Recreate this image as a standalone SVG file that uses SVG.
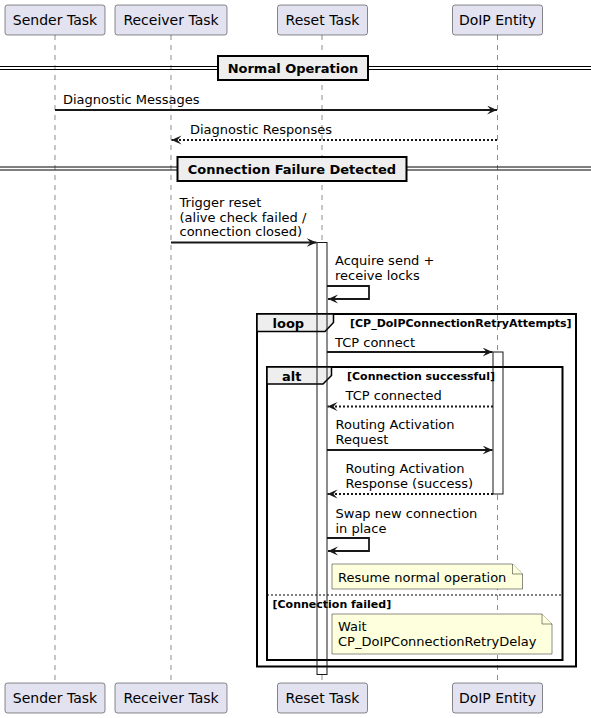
<svg xmlns="http://www.w3.org/2000/svg" width="591" height="718" viewBox="0 0 591 718">
<defs>
<marker id="ah" markerUnits="userSpaceOnUse" markerWidth="12" markerHeight="10" refX="10" refY="4.5" orient="auto">
<path d="M0,0 L10,4.5 L0,9 L4,4.5 Z" fill="#181818"/>
</marker>
<style>
.t{font-family:"DejaVu Sans","Noto Sans",sans-serif;font-size:13px;fill:#000}
.p{font-family:"DejaVu Sans","Noto Sans",sans-serif;font-size:14px;fill:#000;text-anchor:middle}
.b{font-family:"DejaVu Sans","Noto Sans",sans-serif;font-size:13px;font-weight:bold;fill:#000}
.bs{font-family:"DejaVu Sans","Noto Sans",sans-serif;font-size:11px;font-weight:bold;fill:#000}
.part{fill:#E2E2F0;stroke:#181818;stroke-width:0.5}
.life{stroke:#181818;stroke-width:0.5;stroke-dasharray:5,5}
.msg{stroke:#181818;stroke-width:1.8;fill:none;marker-end:url(#ah)}
.dot{stroke-dasharray:2,2}
.act{fill:#FFFFFF;stroke:none}
.acto{fill:none;stroke:#181818;stroke-width:1}
.frame{fill:none;stroke:#000;stroke-width:2}
.tab{fill:#EEEEEE;stroke:#000;stroke-width:1.5}
.note{fill:#FEFFDD;stroke:#181818;stroke-width:0.5}
.divl{stroke:#000;stroke-width:1}
.divb{fill:#EEEEEE;stroke:#000;stroke-width:2}
</style>
</defs>

<g id="lifelines">
<line class="life" x1="55" y1="35" x2="55" y2="683"/>
<line class="life" x1="171" y1="35" x2="171" y2="683"/>
<line class="life" x1="322" y1="35" x2="322" y2="683"/>
<line class="life" x1="497.5" y1="35" x2="497.5" y2="683"/>
</g>

<g id="participant-sender">
<rect class="part" x="5" y="5" width="100" height="30" rx="2.5"/>
<text class="p" x="55" y="25">Sender Task</text>
<rect class="part" x="5" y="683" width="100" height="30" rx="2.5"/>
<text class="p" x="55" y="703">Sender Task</text>
</g>
<g id="participant-receiver">
<rect class="part" x="115" y="5" width="112" height="30" rx="2.5"/>
<text class="p" x="171" y="25">Receiver Task</text>
<rect class="part" x="115" y="683" width="112" height="30" rx="2.5"/>
<text class="p" x="171" y="703">Receiver Task</text>
</g>
<g id="participant-reset">
<rect class="part" x="277.5" y="5" width="90" height="30" rx="2.5"/>
<text class="p" x="322.5" y="25">Reset Task</text>
<rect class="part" x="277.5" y="683" width="90" height="30" rx="2.5"/>
<text class="p" x="322.5" y="703">Reset Task</text>
</g>
<g id="participant-doip">
<rect class="part" x="452.5" y="5" width="90" height="30" rx="2.5"/>
<text class="p" x="497.5" y="25">DoIP Entity</text>
<rect class="part" x="452.5" y="683" width="90" height="30" rx="2.5"/>
<text class="p" x="497.5" y="703">DoIP Entity</text>
</g>

<g id="activation-fills">
<rect class="act" x="317" y="242.5" width="10" height="432"/>
<rect class="act" x="493" y="352" width="10" height="142"/>
</g>

<g id="divider-normal">
<line class="divl" x1="0" y1="66.5" x2="591" y2="66.5"/>
<line class="divl" x1="0" y1="69.5" x2="591" y2="69.5"/>
<rect class="divb" x="218" y="56" width="150" height="24"/>
<text class="b" x="293" y="73" text-anchor="middle">Normal Operation</text>
</g>

<g id="divider-failure">
<line class="divl" x1="0" y1="167" x2="591" y2="167"/>
<line class="divl" x1="0" y1="170" x2="591" y2="170"/>
<rect class="divb" x="177.5" y="157" width="229" height="24"/>
<text class="b" x="292" y="173.5" text-anchor="middle">Connection Failure Detected</text>
</g>

<g id="group-loop">
<rect class="frame" x="257" y="314" width="319" height="352.5"/>
<path class="tab" d="M257,314 H333.5 V322.5 L325,331.5 H257 Z"/>
<text class="b" x="272.5" y="327.5">loop</text>
<text class="bs" x="350" y="327">[CP_DoIPConnectionRetryAttempts]</text>
</g>

<g id="group-alt">
<rect class="frame" x="267" y="367" width="295.5" height="293"/>
<path class="tab" d="M267,367 H331.5 V375.5 L323,384 H267 Z"/>
<text class="b" x="282" y="380.5">alt</text>
<text class="bs" x="347" y="380">[Connection successful]</text>
<line stroke="#000" stroke-width="1" stroke-dasharray="2,2" x1="267" y1="595" x2="562.5" y2="595"/>
<text class="bs" x="272.5" y="608">[Connection failed]</text>
</g>

<g id="connectors">
<line class="msg" x1="55" y1="110" x2="497" y2="110"/>
<text class="t" x="63" y="104">Diagnostic Messages</text>

<line class="msg dot" x1="497" y1="140" x2="171.5" y2="140"/>
<text class="t" x="190" y="134">Diagnostic Responses</text>

<line class="msg" x1="171" y1="242.5" x2="316.5" y2="242.5"/>
<text class="t" x="179.5" y="206.5">Trigger reset</text>
<text class="t" x="179.5" y="221.5">(alive check failed /</text>
<text class="t" x="179.5" y="236">connection closed)</text>

<path class="msg" d="M327,286 H369 V299 H328"/>
<text class="t" x="335" y="265">Acquire send +</text>
<text class="t" x="335" y="280">receive locks</text>

<line class="msg" x1="327" y1="352" x2="492.5" y2="352"/>
<text class="t" x="335" y="346.5">TCP connect</text>

<line class="msg dot" x1="493" y1="406.5" x2="327.5" y2="406.5"/>
<text class="t" x="345.5" y="400">TCP connected</text>

<line class="msg" x1="327" y1="450" x2="492.5" y2="450"/>
<text class="t" x="335.5" y="429">Routing Activation</text>
<text class="t" x="335.5" y="444">Request</text>

<line class="msg dot" x1="493" y1="494" x2="327.5" y2="494"/>
<text class="t" x="345.5" y="473">Routing Activation</text>
<text class="t" x="345.5" y="487.5">Response (success)</text>

<path class="msg" d="M327,538 H369 V551 H328"/>
<text class="t" x="335.5" y="518">Swap new connection</text>
<text class="t" x="335.5" y="532.5">in place</text>
</g>

<g id="note-resume">
<path class="note" d="M332,564 H512.5 L522.5,574 V589 H332 Z"/>
<path class="note" d="M512.5,564 V574 H522.5"/>
<text class="t" x="338" y="581.5">Resume normal operation</text>
</g>

<g id="note-wait">
<path class="note" d="M332,614 H542 L552,624 V654 H332 Z"/>
<path class="note" d="M542,614 V624 H552"/>
<text class="t" x="338" y="631">Wait</text>
<text class="t" x="338" y="646">CP_DoIPConnectionRetryDelay</text>
</g>

<g id="activation-outlines">
<rect class="acto" x="317" y="242.5" width="10" height="432"/>
<rect class="acto" x="493" y="352" width="10" height="142"/>
</g>
</svg>
